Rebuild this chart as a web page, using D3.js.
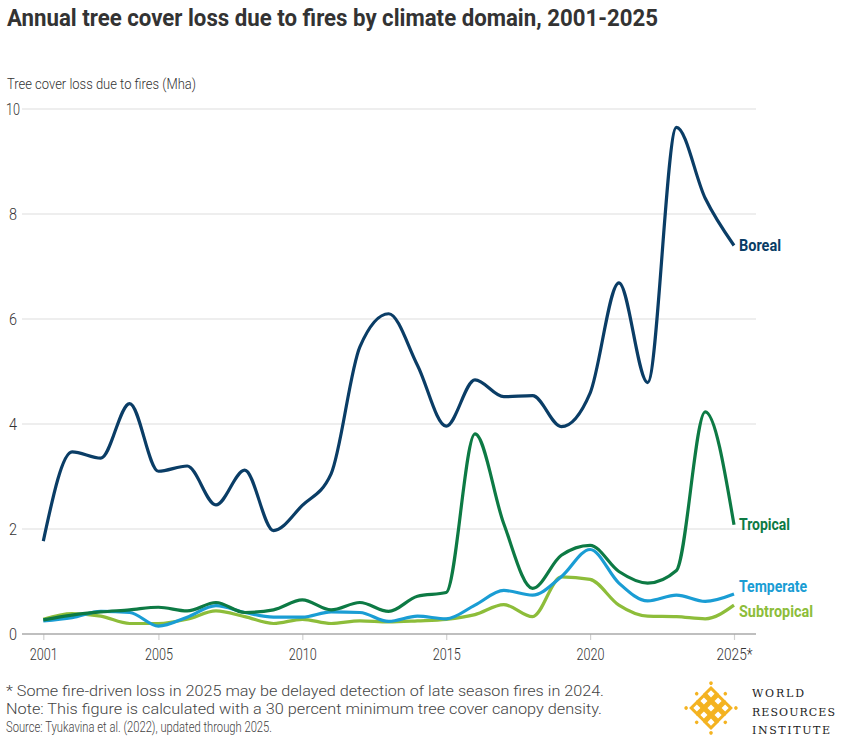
<!DOCTYPE html>
<html><head><meta charset="utf-8">
<script src="https://cdn.jsdelivr.net/npm/d3@7"></script>
<style>
body{margin:0;background:#fff;}
svg{display:block;font-family:Roboto, "Liberation Sans Narrow", sans-serif;}
</style></head>
<body><svg id="c" width="841" height="740"></svg>
<script>
const years = d3.range(2001, 2026);
const boreal = [1.77,3.47,3.35,4.39,3.1,3.2,2.46,3.12,1.97,2.45,3.05,5.47,6.1,5.12,3.96,4.84,4.52,4.54,3.95,4.59,6.69,4.79,9.65,8.3,7.4];
const tropical = [0.27,0.36,0.42,0.46,0.51,0.44,0.6,0.41,0.46,0.65,0.46,0.6,0.43,0.72,0.79,3.81,2.1,0.87,1.5,1.69,1.19,0.97,1.21,4.23,2.08];
const temperate = [0.25,0.31,0.43,0.41,0.15,0.32,0.54,0.41,0.32,0.32,0.42,0.41,0.24,0.34,0.29,0.55,0.83,0.74,1.09,1.61,0.97,0.63,0.74,0.62,0.76];
const subtropical = [0.28,0.39,0.34,0.2,0.2,0.28,0.44,0.33,0.2,0.28,0.2,0.25,0.23,0.25,0.28,0.37,0.56,0.33,1.09,1.04,0.55,0.34,0.33,0.29,0.55];
const seriesNames = ["Boreal","Tropical","Temperate","Subtropical"];
const yTicks = [0,2,4,6,8,10];
const xTicks = [2001,2005,2010,2015,2020,2025];
const xTickLabels = ["2001","2005","2010","2015","2020","2025*"];
const titleText = "Annual tree cover loss due to fires by climate domain, 2001-2025";
const yTitle = "Tree cover loss due to fires (Mha)";
const notes = ["* Some fire-driven loss in 2025 may be delayed detection of late season fires in 2024.",
 "Note: This figure is calculated with a 30 percent minimum tree cover canopy density.",
 "Source: Tyukavina et al. (2022), updated through 2025."];

const colors = ["#0a3d66","#0d7a44","#1a9dd4","#8dbd3a"];
const labelDy = [5, 5, -2, 12];

const svg = d3.select("#c");
const x = d3.scaleLinear().domain([2001,2025]).range([43.3,734]);
const y = d3.scaleLinear().domain([0,10]).range([634,109]);

// title
svg.append("text").attr("x",7).attr("y",26).attr("font-size",24).attr("font-weight",700)
  .attr("fill","#333").attr("textLength",651).attr("lengthAdjust","spacingAndGlyphs").text(titleText);
svg.append("text").attr("x",7).attr("y",89).attr("font-size",15).attr("font-weight",300)
  .attr("fill","#333").attr("textLength",189).attr("lengthAdjust","spacingAndGlyphs").text(yTitle);

// gridlines
const grid = svg.append("g");
grid.selectAll("line").data(yTicks.filter(d=>d>0)).join("line")
  .attr("x1",22).attr("x2",756).attr("y1",d=>y(d)).attr("y2",d=>y(d))
  .attr("stroke","#e8e8e8").attr("stroke-width",1.3);
// y labels
svg.append("g").selectAll("text").data(yTicks).join("text")
  .attr("x",d=>d===10?6:9).attr("y",d=>y(d)+6).attr("font-size",16).attr("font-weight",300)
  .attr("fill","#333").attr("textLength",d=>d===10?14:8).attr("lengthAdjust","spacingAndGlyphs").text(d=>d);

// x axis
const xAxis = d3.axisBottom(x).tickValues(xTicks).tickSize(6).tickFormat((d,i)=>xTickLabels[i]);
const gx = svg.append("g").attr("transform",`translate(0,${y(0)})`).call(xAxis);
gx.select(".domain").remove();
gx.selectAll(".tick line").attr("stroke","#d0d0d0").attr("stroke-width",1.2);
gx.selectAll(".tick text").attr("font-size",16).attr("font-weight",300).attr("fill","#333")
  .attr("font-family","Roboto").attr("dy",0).attr("y",26)
  .attr("textLength",(d,i)=>i===5?36:28).attr("lengthAdjust","spacingAndGlyphs");
svg.append("line").attr("x1",22).attr("x2",756).attr("y1",y(0)).attr("y2",y(0))
  .attr("stroke","#aaa").attr("stroke-width",1.6);

// lines
const data = [boreal,tropical,temperate,subtropical];
const line = d3.line().x((d,i)=>x(years[i])).y(d=>y(d)).curve(d3.curveMonotoneX);
const order = [3,2,1,0];
order.forEach(k=>{
  svg.append("path").datum(data[k]).attr("d",line).attr("fill","none")
    .attr("stroke",colors[k]).attr("stroke-width",3.2).attr("stroke-linejoin","round");
});
// labels
seriesNames.forEach((n,k)=>{
  const v = data[k][data[k].length-1];
  svg.append("text").attr("x",x(2025)+5).attr("y",y(v)+labelDy[k])
    .attr("font-size",16).attr("font-weight",700).attr("fill",colors[k])
    .attr("textLength",{Boreal:42,Tropical:51,Temperate:68,Subtropical:74}[n]).attr("lengthAdjust","spacingAndGlyphs")
    .text(n);
});

// notes
const noteLen = [598,596,266];
svg.append("g").selectAll("text").data(notes).join("text")
  .attr("x",6).attr("y",(d,i)=>696+i*18).attr("font-size",14.5).attr("font-weight",300)
  .attr("fill","#444").attr("textLength",(d,i)=>noteLen[i]).attr("lengthAdjust","spacingAndGlyphs").text(d=>d);

// logo
const logo = svg.append("g").attr("transform","translate(711,708) rotate(45)");
const gold = "#f4b321";
const s = 8;
[-1,0,1].forEach(i=>[-1,0,1].forEach(j=>{
  logo.append("rect").attr("x",i*s*1.25-s/2).attr("y",j*s*1.25-s/2).attr("width",s).attr("height",s)
    .attr("fill","none").attr("stroke",gold).attr("stroke-width",3);
}));
[[-2,-2],[2,-2],[-2,2],[2,2],[0,-2.3],[0,2.3],[-2.3,0],[2.3,0]].forEach(p=>{
  logo.append("circle").attr("cx",p[0]*s*1.1).attr("cy",p[1]*s*1.1).attr("r",1.8).attr("fill",gold);
});
const wri = ["WORLD","RESOURCES","INSTITUTE"];
svg.append("g").selectAll("text").data(wri).join("text")
  .attr("x",752).attr("y",(d,i)=>697+i*18.5).attr("font-family","'DejaVu Serif', serif")
  .attr("font-size",11).attr("fill","#222")
  .attr("textLength",(d,i)=>[52,83,78][i]).attr("lengthAdjust","spacing").text(d=>d);
</script></body></html>
